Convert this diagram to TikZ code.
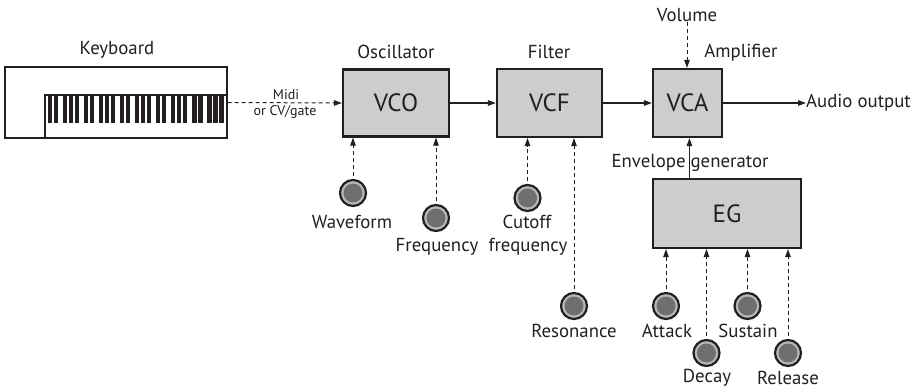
\documentclass[tikz,border=0pt]{standalone}
\usepackage{fontspec}
\setmainfont{PT Sans}
\usetikzlibrary{arrows.meta,calc}
\definecolor{boxfill}{HTML}{CDCDCD}
\definecolor{knobring}{HTML}{B8B8B8}
\definecolor{knobcore}{HTML}{6F6F6F}
\definecolor{ink}{HTML}{231F20}

\tikzset{
  module/.style={draw=ink, line width=2.2pt, fill=boxfill, inner sep=0pt,
    font=\fontsize{25}{25}\selectfont, text=ink},
  caption/.style={font=\fontsize{18.8}{18.8}\selectfont, text=ink, inner sep=0pt},
  small/.style={font=\fontsize{14}{14}\selectfont, text=ink, inner sep=0pt},
  knob/.style={circle, draw=ink, line width=2.2pt, fill=knobring,
    minimum size=26pt, inner sep=0pt,
    path picture={\fill[knobcore] (path picture bounding box.center) circle (9.5pt);}},
  sig/.style={draw=ink, line width=1.2pt, -{Triangle[length=8pt,width=5.5pt]}},
  ctl/.style={sig, line width=1pt, dash pattern=on 4pt off 3pt},
}

\begin{document}
\begin{tikzpicture}[x=1pt, y=-1pt]
  \useasboundingbox (0,0) rectangle (918,390);

  % keyboard
  \node[draw=ink, line width=1.2pt, minimum width=222pt, minimum height=71pt,
        inner sep=0pt] (kb) at (116,102.5) {};
  \coordinate (kbcorner) at (45,95);
  \draw[ink, line width=1.2pt] (kbcorner |- kb.south) -- (kbcorner) -- (kbcorner -| kb.east);
  \foreach \o in {0,...,4}
    \foreach \k in {0,6,15,21,27}
      \fill[ink] ({47.5+36.2*\o+\k},96) rectangle ++(4.2,27);
  \node[caption] (kbl) at (117,50) {Keyboard};

  % modules
  \node[module, minimum width=106pt, minimum height=67pt] (vco) at (396,103) {VCO};
  \node[module, minimum width=105pt, minimum height=68pt] (vcf) at (549.5,103) {VCF};
  \node[module, minimum width=69pt,  minimum height=68pt] (vca) at (687.5,103) {VCA};
  \node[module, minimum width=148pt, minimum height=69pt] (eg)  at (727,213.5) {EG};

  \node[caption] (oscl) at (396,52) {Oscillator};
  \node[caption] (fill) at (549,52) {Filter};
  \node[caption] (ampl) at (741,53) {Amplifier};
  \node[caption] (vol)  at (687,15) {Volume};
  \node[caption] (envl) at (690,163) {Envelope generator};
  \node[caption, anchor=west] (out) at (806,103) {Audio output};

  % signal path
  \draw[ctl] (kb.east) -- (vco.west);
  \node[small] (midi) at (286,95) {Midi};
  \node[small] (cvg)  at (285,112) {or CV/gate};
  \draw[sig] (vco.east) -- (vcf.west);
  \draw[sig] (vcf.east) -- (vca.west);
  \draw[sig] (vca.east) -- (out.west);
  \draw[ctl] (vol.south) -- (vol.south |- vca.north);
  \coordinate (egout) at ($(eg.north west)!0.25!(eg.north east)$);
  \draw[sig] (egout) -- (egout |- vca.south);

  % knobs
  \node[knob] (wf)  at (353,193) {};
  \node[knob] (frq) at (436,218) {};
  \node[knob] (cut) at (527.5,198) {};
  \node[knob] (res) at (574,306) {};
  \node[knob] (att) at (666,306) {};
  \node[knob] (dec) at (706.5,353) {};
  \node[knob] (sus) at (747.5,306) {};
  \node[knob] (rel) at (788,353) {};

  \node[caption] (wfl)  at (352,222) {Waveform};
  \node[caption] (frql) at (437,247) {Frequency};
  \node[caption] (cutl) at (527,222) {Cutoff};
  \node[caption] (cutm) at (528,247) {frequency};
  \node[caption] (resl) at (574,331) {Resonance};
  \node[caption] (attl) at (667,331) {Attack};
  \node[caption] (decl) at (707,378) {Decay};
  \node[caption] (susl) at (748,331) {Sustain};
  \node[caption] (rell) at (788,378) {Release};

  % control inputs
  \foreach \k/\m in {wf/vco, frq/vco, cut/vcf, res/vcf, att/eg, dec/eg, sus/eg, rel/eg}
    \draw[ctl, shorten <=2.5pt] (\k.north) -- (\k.north |- \m.south);
\end{tikzpicture}
\end{document}
